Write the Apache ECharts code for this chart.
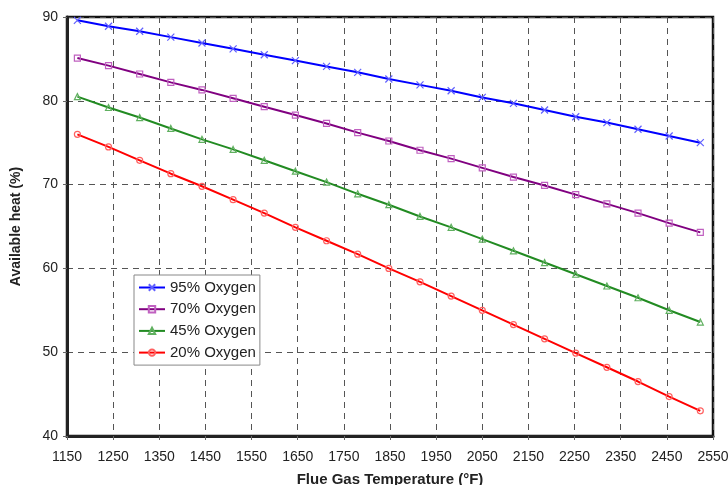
<!DOCTYPE html>
<html>
<head>
<meta charset="utf-8">
<script src="https://cdn.jsdelivr.net/npm/echarts@6/dist/echarts.min.js"></script>
<style>
  html, body { margin: 0; padding: 0; background: #fff; }
  #chart { width: 728px; height: 485px; }
</style>
</head>
<body>
<div id="chart"></div>
<script>
// flue gas temperatures (°F) of the computed points
var temps = [1172.5, 1240, 1307.5, 1375, 1442.5, 1510, 1577.5, 1645, 1712.5, 1780,
  1847.5, 1915, 1982.5, 2050, 2117.5, 2185, 2252.5, 2320, 2387.5, 2455, 2522.5];

var oxy95 = [89.6, 88.9, 88.3, 87.6, 86.9, 86.2, 85.5, 84.8, 84.1, 83.4, 82.6,
  81.9, 81.2, 80.4, 79.7, 78.9, 78.1, 77.4, 76.6, 75.8, 75.0];
var oxy70 = [85.1, 84.2, 83.2, 82.2, 81.3, 80.3, 79.3, 78.3, 77.3, 76.2, 75.2,
  74.1, 73.1, 72.0, 70.9, 69.9, 68.8, 67.7, 66.6, 65.4, 64.3];
var oxy45 = [80.5, 79.2, 78.0, 76.7, 75.4, 74.2, 72.9, 71.6, 70.3, 68.9, 67.6,
  66.2, 64.9, 63.5, 62.1, 60.7, 59.3, 57.9, 56.5, 55.0, 53.6];
var oxy20 = [76.0, 74.5, 72.9, 71.3, 69.8, 68.2, 66.6, 64.9, 63.3, 61.7, 60.0,
  58.4, 56.7, 55.0, 53.3, 51.6, 49.9, 48.2, 46.5, 44.7, 43.0];

var seriesNames = ['95% Oxygen', '70% Oxygen', '45% Oxygen', '20% Oxygen'];

function pairs(ys) {
  return temps.map(function (t, i) { return [t, ys[i]]; });
}

var dom = document.getElementById('chart');
var myChart = echarts.init(dom);

var crossPath = 'path://M0,0L10,10M10,0L0,10';
var font = 'Liberation Sans, Arial, sans-serif';

function mkSeries(name, ys, lineColor, markColor, symbol, size) {
  return {
    name: name,
    type: 'line',
    data: pairs(ys),
    symbol: symbol,
    symbolSize: size,
    showAllSymbol: true,
    lineStyle: { color: lineColor, width: 2 },
    itemStyle: {
      color: symbol === crossPath ? 'none' : 'rgba(255,255,255,0)',
      borderColor: markColor,
      borderWidth: 1.2
    },
    emphasis: { disabled: true },
    z: 3
  };
}

var option = {
  animation: false,
  backgroundColor: '#fff',
  textStyle: { fontFamily: font },
  grid: {
    left: 67, right: 15, top: 17, bottom: 49,
    show: true,
    borderColor: '#111',
    borderWidth: 2.5,
    containLabel: false,
    outerBoundsMode: 'none'
  },
  legend: {
    orient: 'vertical',
    left: 134,
    top: 275,
    backgroundColor: '#fff',
    borderColor: '#888',
    borderWidth: 1,
    padding: [5, 4, 5, 4],
    itemWidth: 26,
    itemHeight: 8,
    itemGap: 6.7,
    data: seriesNames,
    textStyle: { fontSize: 15, color: '#222', fontFamily: font }
  },
  xAxis: {
    type: 'value',
    min: 1150,
    max: 2550,
    interval: 100,
    name: 'Flue Gas Temperature (°F)',
    nameLocation: 'middle',
    nameGap: 36,
    nameTextStyle: { fontSize: 15, fontWeight: 'bold', color: '#222' },
    axisLine: { show: true, onZero: false, lineStyle: { color: '#222', width: 3 } },
    axisTick: { show: true, length: 4, lineStyle: { color: '#666' } },
    axisLabel: {
      fontSize: 14, color: '#222', margin: 14,
      formatter: function (v) { return String(v); }
    },
    splitLine: { show: true, lineStyle: { color: '#555', type: [6, 5], width: 1 } }
  },
  yAxis: {
    type: 'value',
    min: 40,
    max: 90,
    interval: 10,
    name: 'Available heat (%)',
    nameLocation: 'middle',
    nameGap: 44,
    nameTextStyle: { fontSize: 14, fontWeight: 'bold', color: '#222' },
    axisLine: { show: true, onZero: false, lineStyle: { color: '#222', width: 3 } },
    axisTick: { show: true, length: 4, lineStyle: { color: '#666' } },
    axisLabel: { fontSize: 14, color: '#222', margin: 9 },
    splitLine: { show: true, lineStyle: { color: '#555', type: [6, 5], width: 1 } }
  },
  series: [
    mkSeries(seriesNames[0], oxy95, '#0000ff', '#6060ff', crossPath, 7),
    mkSeries(seriesNames[1], oxy70, '#800080', '#c060c0', 'rect', 6),
    mkSeries(seriesNames[2], oxy45, '#228b22', '#60b060', 'triangle', 6),
    mkSeries(seriesNames[3], oxy20, '#ff0000', '#ff6060', 'circle', 6)
  ]
};

if (option && typeof option === 'object') {
  myChart.setOption(option);
}
</script>
</body>
</html>
